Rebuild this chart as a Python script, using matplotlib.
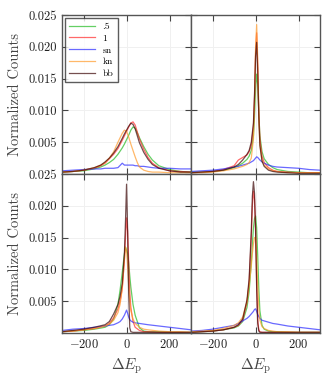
import matplotlib
matplotlib.use("Agg")
import matplotlib.pyplot as plt

# ---------------- data ----------------
labels = [".5", "1", "sn", "kn", "bb"]
colors = ["#22bb22", "#ff2a2a", "#2a2aff", "#ff9a2a", "#3a0505"]

# panel 1 (top-left)
p1_x = [-300, -250, -200, -150, -120, -100, -80, -60, -40, -20, -10, 0, 10, 20, 30, 40, 50, 60, 80, 100, 120, 150, 200, 250, 300]
p1_half = [0.0003, 0.0004, 0.0005, 0.0008, 0.0011, 0.0014, 0.0018, 0.0023, 0.0031, 0.0041, 0.0047, 0.0054, 0.0061, 0.0069, 0.0074, 0.0072, 0.0065, 0.0057, 0.0043, 0.0031, 0.0022, 0.0013, 0.0007, 0.0004, 0.0003]
p1_one = [0.0003, 0.0004, 0.0006, 0.0009, 0.0013, 0.0017, 0.0024, 0.0031, 0.0040, 0.0053, 0.0060, 0.0067, 0.0074, 0.0080, 0.0082, 0.0077, 0.0066, 0.0055, 0.0039, 0.0026, 0.0017, 0.0010, 0.0005, 0.0004, 0.0003]
p1_sn = [0.0005, 0.0006, 0.0007, 0.0008, 0.0008, 0.0009, 0.0009, 0.0009, 0.0010, 0.0017, 0.0014, 0.0014, 0.0014, 0.0014, 0.0014, 0.0013, 0.0013, 0.0012, 0.0012, 0.0011, 0.0010, 0.0009, 0.0009, 0.0008, 0.0008]
p1_kn = [0.0003, 0.0004, 0.0006, 0.0010, 0.0014, 0.0018, 0.0025, 0.0035, 0.0050, 0.0064, 0.0069, 0.0067, 0.0058, 0.0047, 0.0037, 0.0027, 0.0018, 0.0011, 0.0006, 0.0004, 0.0003, 0.0003, 0.0002, 0.0002, 0.0002]
p1_bb = [0.0003, 0.0004, 0.0006, 0.0010, 0.0014, 0.0019, 0.0025, 0.0033, 0.0043, 0.0056, 0.0063, 0.0069, 0.0075, 0.0080, 0.0078, 0.0071, 0.0060, 0.0049, 0.0034, 0.0023, 0.0015, 0.0009, 0.0005, 0.0003, 0.0003]

# panel 2 (top-right)
p2_x = [-300, -250, -200, -150, -100, -80, -60, -40, -30, -20, -10, -5, 0, 5, 10, 15, 20, 30, 40, 60, 80, 100, 150, 200, 250, 300]
p2_half = [0.0003, 0.0003, 0.0004, 0.0006, 0.0010, 0.0013, 0.0017, 0.0023, 0.0028, 0.0037, 0.0060, 0.0090, 0.0135, 0.0157, 0.0140, 0.0095, 0.0060, 0.0035, 0.0024, 0.0015, 0.0010, 0.0007, 0.0004, 0.0003, 0.0002, 0.0002]
p2_one = [0.0002, 0.0003, 0.0004, 0.0007, 0.0013, 0.0022, 0.0026, 0.0030, 0.0035, 0.0045, 0.0075, 0.0120, 0.0190, 0.0222, 0.0170, 0.0100, 0.0055, 0.0028, 0.0018, 0.0010, 0.0006, 0.0004, 0.0003, 0.0002, 0.0002, 0.0002]
p2_sn = [0.0004, 0.0005, 0.0006, 0.0008, 0.0011, 0.0012, 0.0014, 0.0016, 0.0017, 0.0019, 0.0021, 0.0023, 0.0025, 0.0027, 0.0026, 0.0024, 0.0022, 0.0019, 0.0017, 0.0014, 0.0012, 0.0011, 0.0010, 0.0009, 0.0007, 0.0006]
p2_kn = [0.0002, 0.0002, 0.0003, 0.0005, 0.0008, 0.0010, 0.0012, 0.0015, 0.0018, 0.0025, 0.0055, 0.0110, 0.0200, 0.0235, 0.0180, 0.0090, 0.0045, 0.0022, 0.0014, 0.0008, 0.0005, 0.0004, 0.0002, 0.0002, 0.0002, 0.0002]
p2_bb = [0.0002, 0.0003, 0.0004, 0.0006, 0.0011, 0.0015, 0.0022, 0.0031, 0.0037, 0.0050, 0.0080, 0.0125, 0.0185, 0.0207, 0.0160, 0.0090, 0.0045, 0.0020, 0.0012, 0.0006, 0.0004, 0.0003, 0.0002, 0.0001, 0.0001, 0.0001]

# panel 3 (bottom-left)
p3_x = [-300, -250, -200, -150, -100, -80, -60, -40, -30, -20, -10, -5, 0, 5, 10, 15, 20, 30, 40, 60, 80, 100, 150, 200, 250, 300]
p3_half = [0.0002, 0.0003, 0.0004, 0.0006, 0.0009, 0.0013, 0.0022, 0.0045, 0.0068, 0.0095, 0.0125, 0.0135, 0.0130, 0.0125, 0.0110, 0.0090, 0.0072, 0.0045, 0.0028, 0.0008, 0.0003, 0.0002, 0.0002, 0.0001, 0.0001, 0.0001]
p3_one = [0.0002, 0.0003, 0.0005, 0.0007, 0.0011, 0.0015, 0.0024, 0.0038, 0.0050, 0.0070, 0.0115, 0.0150, 0.0181, 0.0160, 0.0110, 0.0065, 0.0040, 0.0018, 0.0009, 0.0004, 0.0002, 0.0002, 0.0001, 0.0001, 0.0001, 0.0001]
p3_sn = [0.0004, 0.0006, 0.0007, 0.0009, 0.0011, 0.0012, 0.0013, 0.0016, 0.0018, 0.0022, 0.0028, 0.0032, 0.0036, 0.0031, 0.0025, 0.0021, 0.0019, 0.0017, 0.0016, 0.0015, 0.0014, 0.0013, 0.0011, 0.0009, 0.0007, 0.0005]
p3_kn = [0.0002, 0.0003, 0.0005, 0.0007, 0.0011, 0.0014, 0.0020, 0.0032, 0.0045, 0.0070, 0.0115, 0.0135, 0.0130, 0.0105, 0.0075, 0.0050, 0.0035, 0.0022, 0.0015, 0.0009, 0.0006, 0.0005, 0.0003, 0.0002, 0.0002, 0.0001]
p3_bb = [0.0002, 0.0004, 0.0006, 0.0009, 0.0013, 0.0018, 0.0030, 0.0045, 0.0058, 0.0078, 0.0125, 0.0175, 0.0234, 0.0160, 0.0060, 0.0008, 0.0002, 0.0001, 0.0001, 0.0001, 0.0001, 0.0001, 0.0001, 0.0001, 0.0001, 0.0001]

# panel 4 (bottom-right)
p4_x = [-300, -250, -200, -150, -100, -80, -60, -40, -30, -20, -15, -10, -5, 0, 5, 10, 15, 20, 30, 40, 60, 80, 100, 150, 200, 250, 300]
p4_half = [0.0001, 0.0002, 0.0003, 0.0005, 0.0008, 0.0011, 0.0018, 0.0040, 0.0065, 0.0110, 0.0140, 0.0165, 0.0180, 0.0184, 0.0165, 0.0120, 0.0070, 0.0035, 0.0012, 0.0006, 0.0003, 0.0002, 0.0002, 0.0001, 0.0001, 0.0001, 0.0001]
p4_one = [0.0001, 0.0002, 0.0003, 0.0005, 0.0009, 0.0012, 0.0020, 0.0048, 0.0080, 0.0150, 0.0200, 0.0223, 0.0210, 0.0165, 0.0080, 0.0020, 0.0005, 0.0002, 0.0001, 0.0001, 0.0001, 0.0001, 0.0001, 0.0001, 0.0001, 0.0001, 0.0001]
p4_sn = [0.0003, 0.0004, 0.0006, 0.0009, 0.0012, 0.0015, 0.0019, 0.0023, 0.0026, 0.0030, 0.0032, 0.0034, 0.0037, 0.0038, 0.0034, 0.0029, 0.0026, 0.0023, 0.0020, 0.0019, 0.0017, 0.0015, 0.0014, 0.0011, 0.0009, 0.0007, 0.0005]
p4_kn = [0.0002, 0.0003, 0.0004, 0.0007, 0.0012, 0.0016, 0.0025, 0.0050, 0.0075, 0.0105, 0.0125, 0.0140, 0.0150, 0.0150, 0.0120, 0.0075, 0.0040, 0.0020, 0.0010, 0.0007, 0.0004, 0.0003, 0.0002, 0.0002, 0.0001, 0.0001, 0.0001]
p4_bb = [0.0001, 0.0002, 0.0003, 0.0005, 0.0009, 0.0013, 0.0022, 0.0052, 0.0085, 0.0160, 0.0215, 0.0238, 0.0220, 0.0160, 0.0070, 0.0015, 0.0003, 0.0001, 0.0001, 0.0001, 0.0001, 0.0001, 0.0001, 0.0001, 0.0001, 0.0001, 0.0001]

panels = [
    (p1_x, [p1_half, p1_one, p1_sn, p1_kn, p1_bb]),
    (p2_x, [p2_half, p2_one, p2_sn, p2_kn, p2_bb]),
    (p3_x, [p3_half, p3_one, p3_sn, p3_kn, p3_bb]),
    (p4_x, [p4_half, p4_one, p4_sn, p4_kn, p4_bb]),
]

x_ticks = [-200, 0, 200]
y_ticks = [0.005, 0.010, 0.015, 0.020, 0.025]
y_ticklabels = ["0.005", "0.010", "0.015", "0.020", "0.025"]

# ---------------- style ----------------
plt.rcParams["font.family"] = ["cmr10"]
plt.rcParams["mathtext.fontset"] = "cm"
plt.rcParams["axes.formatter.use_mathtext"] = True
plt.rcParams["axes.unicode_minus"] = True

fig, axes = plt.subplots(2, 2, figsize=(3.3, 3.8), dpi=100, sharex=True, sharey=True)
fig.subplots_adjust(left=0.188, right=0.970, top=0.9605, bottom=0.1237, wspace=0, hspace=0)

for ax, (xs, series) in zip(axes.flat, panels):
    for ys, lab, col in zip(series, labels, colors):
        ax.plot(xs, ys, color=col, lw=0.9, alpha=0.7, label=lab)
    ax.set_xlim(-300, 300)
    ax.set_ylim(0, 0.025)
    ax.set_xticks(x_ticks)
    ax.set_yticks(y_ticks)
    ax.grid(True, color="#f0f0f0", lw=0.7)
    ax.set_axisbelow(True)
    ax.tick_params(direction="in", length=4, width=0.8, color="#444444",
                   top=True, right=True, labelsize=9)
    for s in ax.spines.values():
        s.set_color("#555555")
        s.set_linewidth(1.0)

for ax in axes[:, 0]:
    ax.set_yticklabels(y_ticklabels)
    ax.set_ylabel("Normalized Counts", fontsize=10.5, color="#444444", labelpad=5)
for ax in axes[1, :]:
    ax.set_xticklabels([r"$-200$", r"$0$", r"$200$"])
    ax.set_xlabel(r"$\Delta E_\mathrm{p}$", fontsize=11, color="#444444")
for ax in axes.flat:
    for lbl in ax.get_xticklabels() + ax.get_yticklabels():
        lbl.set_color("#222222")

leg = axes[0, 0].legend(loc="upper left", fontsize=7, frameon=True, fancybox=False,
                        handlelength=2.6, handletextpad=0.8, borderpad=0.45,
                        labelspacing=0.3, borderaxespad=0.3)
leg.get_frame().set_edgecolor("#333333")
leg.get_frame().set_linewidth(1.0)

fig.savefig("out.png", dpi=100)
